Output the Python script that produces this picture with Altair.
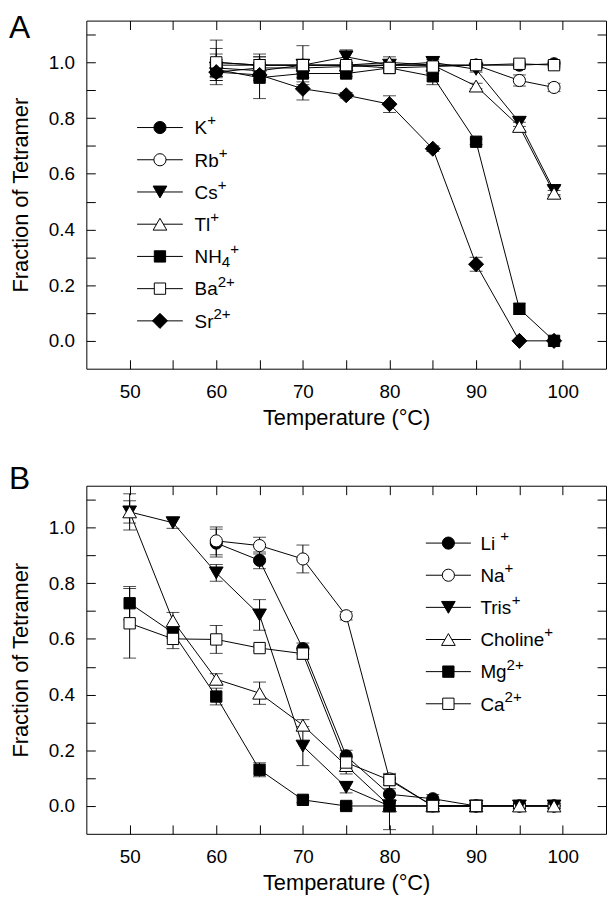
import altair as alt
import pandas as pd

FONT = "Liberation Sans"

# ---------------- Panel A data ----------------
A_temps = [60, 65, 70, 75, 80, 85, 90, 95, 99]
A_names = ["K", "Rb", "Cs", "Tl", "NH4", "Ba", "Sr"]
A_K = [0.965, 0.980, 0.980, 0.985, 0.990, 0.990, 0.990, 0.990, 0.995]
A_Rb = [0.990, 0.990, 0.990, 0.990, 0.990, 0.990, 0.990, 0.935, 0.910]
A_Cs = [0.980, 0.970, 0.990, 1.020, 0.990, 1.000, 0.975, 0.785, 0.540]
A_Tl = [1.000, 0.990, 0.990, 0.990, 1.000, 0.990, 0.915, 0.770, 0.530]
A_NH4 = [0.975, 0.945, 0.960, 0.960, 0.980, 0.950, 0.715, 0.115, 0.000]
A_Ba = [1.000, 0.990, 0.990, 0.990, 0.980, 0.985, 0.990, 0.995, 0.990]
A_Sr = [0.965, 0.955, 0.905, 0.882, 0.850, 0.690, 0.275, 0.000, 0.000]
A_err_K = [0.03, 0.02, 0.02, 0.01, 0.01, 0.01, 0.01, 0.01, 0.01]
A_err_Rb = [0.04, 0.03, 0.02, 0.01, 0.01, 0.01, 0.01, 0.02, 0.015]
A_err_Cs = [0.03, 0.03, 0.02, 0.025, 0.01, 0.01, 0.01, 0.015, 0.015]
A_err_Tl = [0.08, 0.04, 0.07, 0.01, 0.02, 0.03, 0.01, 0.015, 0.01]
A_err_NH4 = [0.03, 0.075, 0.03, 0.01, 0.01, 0.03, 0.01, 0.02, 0.0]
A_err_Ba = [0.05, 0.02, 0.02, 0.01, 0.01, 0.01, 0.01, 0.01, 0.01]
A_err_Sr = [0.03, 0.02, 0.04, 0.01, 0.03, 0.01, 0.025, 0.0, 0.0]
A_shapes = ["circle", "circle", "triangle-down", "triangle-up", "square", "square", "diamond"]
A_fills = ["black", "white", "black", "white", "black", "white", "black"]
A_labels = [
    [("K", "b"), ("+", "sup")],
    [("Rb", "b"), ("+", "sup")],
    [("Cs", "b"), ("+", "sup")],
    [("Tl", "b"), ("+", "sup")],
    [("NH", "b"), ("4", "sub"), ("+", "sup")],
    [("Ba", "b"), ("2+", "sup")],
    [("Sr", "b"), ("2+", "sup")],
]

# ---------------- Panel B data ----------------
B_temps = [50, 55, 60, 65, 70, 75, 80, 85, 90, 95, 99]
B_names = ["Li", "Na", "Tris", "Choline", "Mg", "Ca"]
B_Li = [None, None, 0.944, 0.882, 0.565, 0.180, 0.042, 0.026, 0.0, 0.0, 0.0]
B_Na = [None, None, 0.952, 0.935, 0.887, 0.683, 0.097, 0.0, 0.0, 0.0, 0.0]
B_Tris = [1.056, 1.017, 0.837, 0.686, 0.215, 0.067, 0.0, 0.0, 0.0, 0.0, 0.0]
B_Choline = [1.056, 0.665, 0.455, 0.405, 0.290, 0.145, 0.0, 0.0, 0.0, 0.0, 0.0]
B_Mg = [0.728, 0.622, 0.393, 0.130, 0.022, 0.0, 0.0, 0.0, 0.0, None, None]
B_Ca = [0.656, 0.600, 0.598, 0.567, 0.547, 0.156, 0.093, 0.0, 0.0, None, None]
B_err_Li = [0, 0, 0.05, 0.03, 0.02, 0.02, 0.02, 0.015, 0.01, 0.01, 0.01]
B_err_Na = [0, 0, 0.05, 0.03, 0.05, 0.015, 0.02, 0.01, 0.01, 0.01, 0.01]
B_err_Tris = [0.04, 0.02, 0.03, 0.055, 0.07, 0.02, 0.085, 0.01, 0.01, 0.01, 0.01]
B_err_Choline = [0.065, 0.03, 0.02, 0.04, 0.02, 0.03, 0.01, 0.01, 0.01, 0.01, 0.01]
B_err_Mg = [0.06, 0.02, 0.03, 0.025, 0.01, 0.01, 0.01, 0.01, 0.01, 0, 0]
B_err_Ca = [0.125, 0.035, 0.05, 0.01, 0.02, 0.02, 0.02, 0.01, 0.01, 0, 0]
B_shapes = ["circle", "circle", "triangle-down", "triangle-up", "square", "square"]
B_fills = ["black", "white", "black", "white", "black", "white"]
B_labels = [
    [("Li ", "b"), ("+", "sup")],
    [("Na", "b"), ("+", "sup")],
    [("Tris", "b"), ("+", "sup")],
    [("Choline", "b"), ("+", "sup")],
    [("Mg", "b"), ("2+", "sup")],
    [("Ca", "b"), ("2+", "sup")],
]

X_TICKS = [50, 55, 60, 65, 70, 75, 80, 85, 90, 95, 100]
Y_TICKS = [round(i * 0.1, 1) for i in range(12)]

# ---------------- layout constants ----------------
W, H = 524, 351
XDOM = [45, 105]
YDOM = [-0.1, 1.15]
PXX = W / (XDOM[1] - XDOM[0])
PXY = H / (YDOM[1] - YDOM[0])
SIZES = {"circle": 150, "triangle-down": 190, "triangle-up": 190, "square": 130, "diamond": 230}
LEG_FS = 19

CHAR_W = {'K': 667, 'R': 722, 'b': 556, 'C': 722, 's': 500, 'T': 611, 'l': 222, 'N': 722,
          'H': 722, 'B': 667, 'a': 556, 'S': 667, 'r': 333, 'L': 556, 'i': 222, ' ': 278,
          't': 278, 'h': 556, 'o': 556, 'n': 556, 'e': 556, 'M': 833, 'g': 556, '4': 556,
          '2': 556, '+': 584}


def text_width(s, fs):
    return sum(CHAR_W.get(c, 556) for c in s) / 1000.0 * fs


def long_df(temps, names, values, errs, shapes, fills):
    rows = []
    for nm, vals, es, shp, fil in zip(names, values, errs, shapes, fills):
        for t, v, e in zip(temps, vals, es):
            if v is None:
                continue
            rows.append(dict(series=nm, T=t, v=v, e=e, lo=v - e, hi=v + e,
                             shp=shp, fil=fil, sz=SIZES[shp]))
    return pd.DataFrame(rows)


def legend_frames(names, labels, shapes, fills, x_sym, y0, step, half, x_text):
    sym_rows, seg_rows = [], []
    for i, (nm, segs, shp, fil) in enumerate(zip(names, labels, shapes, fills)):
        y = y0 - i * step
        sym_rows.append(dict(series=nm, x=x_sym, x1=x_sym - half, x2=x_sym + half, y=y,
                             shp=shp, fil=fil, sz=SIZES[shp]))
        off = 0.0
        base_y = y - 0.358 * LEG_FS / PXY
        for txt, kind in segs:
            if kind == "b":
                f, dyp = LEG_FS, 0.0
            elif kind == "sup":
                f, dyp = LEG_FS * 0.8, 0.47 * LEG_FS
            else:
                f, dyp = LEG_FS * 0.8, -0.22 * LEG_FS
            seg_rows.append(dict(x=x_text + off / PXX, y=base_y + dyp / PXY, t=txt, fs=f))
            off += text_width(txt, f)
    return pd.DataFrame(sym_rows), pd.DataFrame(seg_rows)


NEG_TICK = {"expr": "-9"}
XLAB = "datum.value % 10 == 0 ? datum.label : ''"
YLAB = "round(datum.value * 10) % 2 == 0 ? datum.label : ''"


def panel(df, leg_sym, leg_txt, letter, letter_y):
    xsc = alt.Scale(domain=XDOM, nice=False, zero=False)
    ysc = alt.Scale(domain=YDOM, nice=False, zero=False)
    ax_bottom = alt.Axis(orient="bottom", values=X_TICKS, labelExpr=XLAB, tickSize=NEG_TICK,
                         labelPadding=23, title="Temperature (°C)", titlePadding=6)
    ax_left = alt.Axis(orient="left", values=Y_TICKS, format=".1f", labelExpr=YLAB,
                       tickSize=NEG_TICK, labelPadding=21, title="Fraction of Tetramer",
                       titlePadding=16)
    ax_top = alt.Axis(orient="top", values=X_TICKS, labels=False, tickSize=NEG_TICK, title=None)
    ax_right = alt.Axis(orient="right", values=Y_TICKS, labels=False, tickSize=NEG_TICK, title=None)

    base = alt.Chart(df)
    xq = alt.X("T:Q", scale=xsc, axis=None)
    lines = base.mark_line(color="black", strokeWidth=1).encode(
        x=alt.X("T:Q", scale=xsc, axis=ax_bottom),
        y=alt.Y("v:Q", scale=ysc, axis=ax_left),
        detail="series:N", order="T:Q")
    frame = base.mark_point(opacity=0).encode(
        x=alt.X("T:Q", scale=xsc, axis=ax_top),
        y=alt.Y("v:Q", scale=ysc, axis=ax_right))
    errs = base.transform_filter("datum.e > 0")
    err = errs.mark_rule(color="black", strokeWidth=1).encode(
        x=xq, y=alt.Y("lo:Q", scale=ysc, axis=None), y2="hi:Q")
    cap_lo = errs.mark_tick(orient="horizontal", size=13, thickness=1, color="black").encode(
        x=xq, y=alt.Y("lo:Q", scale=ysc, axis=None))
    cap_hi = errs.mark_tick(orient="horizontal", size=13, thickness=1, color="black").encode(
        x=xq, y=alt.Y("hi:Q", scale=ysc, axis=None))
    pts = base.mark_point(filled=True, stroke="black", strokeWidth=1, opacity=1).encode(
        x=xq, y=alt.Y("v:Q", scale=ysc, axis=None),
        shape=alt.Shape("shp:N", scale=None),
        fill=alt.Fill("fil:N", scale=None),
        size=alt.Size("sz:Q", scale=None))

    lx = alt.X("x:Q", scale=xsc, axis=None)
    ly = alt.Y("y:Q", scale=ysc, axis=None)
    leg_line = alt.Chart(leg_sym).mark_rule(color="black", strokeWidth=1).encode(
        x=alt.X("x1:Q", scale=xsc, axis=None), x2="x2:Q", y=ly)
    leg_pt = alt.Chart(leg_sym).mark_point(filled=True, stroke="black", strokeWidth=1,
                                           opacity=1).encode(
        x=lx, y=ly, shape=alt.Shape("shp:N", scale=None),
        fill=alt.Fill("fil:N", scale=None), size=alt.Size("sz:Q", scale=None))
    leg_text = alt.Chart(leg_txt).mark_text(align="left", baseline="alphabetic", font=FONT,
                                            color="black").encode(
        x=lx, y=ly, text="t:N", size=alt.Size("fs:Q", scale=None))
    let = alt.Chart(pd.DataFrame({"t": [letter]})).mark_text(
        align="left", baseline="top", font=FONT, fontSize=32, color="black").encode(
        x=alt.value(-78), y=alt.value(letter_y), text="t:N")

    return alt.layer(lines, frame, err, cap_lo, cap_hi, pts, leg_line, leg_pt, leg_text,
                     let).resolve_axis(x="independent", y="independent").properties(
        width=W, height=H)


dfA = long_df(A_temps, A_names, [A_K, A_Rb, A_Cs, A_Tl, A_NH4, A_Ba, A_Sr],
              [A_err_K, A_err_Rb, A_err_Cs, A_err_Tl, A_err_NH4, A_err_Ba, A_err_Sr],
              A_shapes, A_fills)
dfB = long_df(B_temps, B_names, [B_Li, B_Na, B_Tris, B_Choline, B_Mg, B_Ca],
              [B_err_Li, B_err_Na, B_err_Tris, B_err_Choline, B_err_Mg, B_err_Ca],
              B_shapes, B_fills)

legA_sym, legA_txt = legend_frames(A_names, A_labels, A_shapes, A_fills,
                                   x_sym=53.5, y0=0.766, step=0.1157, half=2.64, x_text=57.5)
legB_sym, legB_txt = legend_frames(B_names, B_labels, B_shapes, B_fills,
                                   x_sym=86.8, y0=0.944, step=0.1154, half=2.6, x_text=90.5)

chartA = panel(dfA, legA_sym, legA_txt, "A", -7)
chartB = panel(dfB, legB_sym, legB_txt, "B", -22)

chart = alt.vconcat(chartA, chartB, spacing=33).properties(
    padding={"left": 0, "top": 0, "right": 0, "bottom": 0}
).configure_view(stroke="black", strokeWidth=1).configure_axis(
    labelFont=FONT, titleFont=FONT, labelColor="black", titleColor="black",
    labelFontSize=19, titleFontSize=22, titleFontWeight="normal",
    tickColor="black", tickWidth=1, domain=False, grid=False)

chart.save("out.html", embed_options={"renderer": "svg", "actions": False})
